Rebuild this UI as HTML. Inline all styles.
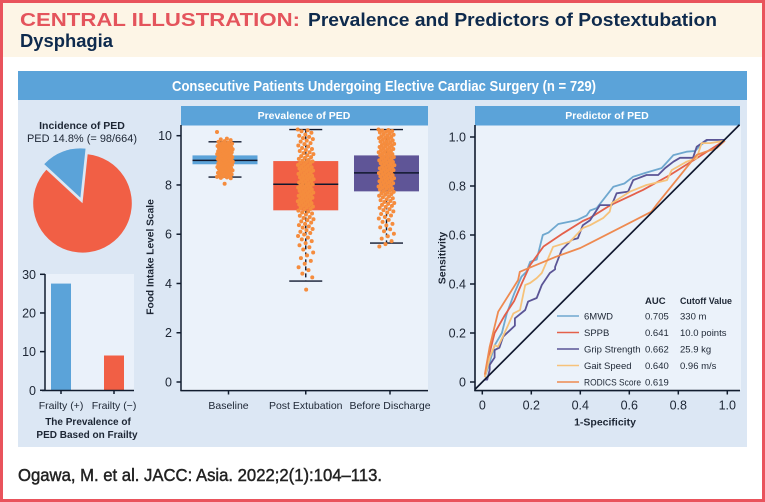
<!DOCTYPE html>
<html lang="en">
<head>
<meta charset="utf-8">
<title>Central Illustration: Prevalence and Predictors of Postextubation Dysphagia</title>
<style>
html,body{margin:0;padding:0;background:#fff;}
svg{display:block;font-family:"Liberation Sans",sans-serif;}
.tick{font-size:12.5px;fill:#1d2634;}
.cat{font-size:10.5px;fill:#1d2634;}
.bold{font-weight:bold;fill:#1d2634;}
.leg{font-size:9.5px;fill:#1d2634;}
</style>
</head>
<body>
<svg id="root" width="765" height="502" viewBox="0 0 765 502" xmlns="http://www.w3.org/2000/svg">
  <rect x="0" y="0" width="765" height="502" fill="#ffffff"/>
  <rect x="3" y="3" width="759" height="54" fill="#fdf5e6"/>
  <rect x="1.5" y="1.5" width="762" height="499" fill="none" stroke="#e9535c" stroke-width="3"/>
  <text x="20" y="26" font-size="18.5" font-weight="bold" fill="#e4545c" textLength="280" lengthAdjust="spacingAndGlyphs">CENTRAL ILLUSTRATION:</text>
  <text x="308" y="26" font-size="18.5" font-weight="bold" fill="#0e2a4d" textLength="409" lengthAdjust="spacingAndGlyphs">Prevalence and Predictors of Postextubation</text>
  <text x="20" y="47" font-size="18.5" font-weight="bold" fill="#0e2a4d" textLength="93" lengthAdjust="spacingAndGlyphs">Dysphagia</text>

  <rect x="18" y="100" width="729" height="347" fill="#dce7f4"/>
  <rect x="18" y="71" width="729" height="29" fill="#5ba3d9"/>
  <text x="384" y="91" font-size="15" font-weight="bold" fill="#ffffff" text-anchor="middle" textLength="424" lengthAdjust="spacingAndGlyphs">Consecutive Patients Undergoing Elective Cardiac Surgery (n = 729)</text>

  <g id="pie">
    <text x="82" y="129" font-size="10.5" class="bold" text-anchor="middle">Incidence of PED</text>
    <text x="82" y="142" font-size="11" fill="#1d2634" text-anchor="middle" textLength="110" lengthAdjust="spacingAndGlyphs">PED 14.8% (= 98/664)</text>
  </g>

  <g id="bars">
    <rect x="45" y="274" width="89" height="116" fill="#eaf1fa"/>
    <text x="88" y="425" font-size="10" class="bold" text-anchor="middle">The Prevalence of</text>
    <text x="87" y="438" font-size="10" class="bold" text-anchor="middle">PED Based on Frailty</text>
  </g>

  <g id="box">
    <rect x="181" y="125" width="247" height="265" fill="#ebf2fa"/>
    <rect x="181" y="106" width="247" height="19.5" fill="#5ba3d9"/>
    <text x="304" y="119" font-size="10.5" font-weight="bold" fill="#ffffff" text-anchor="middle">Prevalence of PED</text>
    <text transform="translate(153.5,257) rotate(-90)" font-size="10.2" class="bold" text-anchor="middle">Food Intake Level Scale</text>
  </g>

  <g id="roc">
    <rect x="475" y="125" width="266" height="265" fill="#ebf2fa"/>
    <rect x="475" y="106" width="265" height="19.5" fill="#5ba3d9"/>
    <text x="607" y="119" font-size="10.5" font-weight="bold" fill="#ffffff" text-anchor="middle">Predictor of PED</text>
    <text transform="translate(445.5,258) rotate(-90)" font-size="10.5" class="bold" text-anchor="middle">Sensitivity</text>
    <text x="605" y="425.5" font-size="10.5" class="bold" text-anchor="middle">1-Specificity</text>
  </g>

  <text x="18" y="481" font-size="17.5" fill="#222222" stroke="#222222" stroke-width="0.45" textLength="364" lengthAdjust="spacingAndGlyphs">Ogawa, M. et al. JACC: Asia. 2022;2(1):104–113.</text>
</svg>

<script>
/* Pie data */
const pieLabels = ['PED', 'No PED'];
const pieCounts = [98, 566];

/* Frailty bar data */
const frailtyCategories = ['Frailty (+)', 'Frailty (−)'];
const frailtyValues = [27.6, 9];
const frailtyTicks = [0, 10, 20, 30];

/* Box plot data */
const boxCategories = ['Baseline', 'Post Extubation', 'Before Discharge'];
const boxTicks = [0, 2, 4, 6, 8, 10];
const boxQ1 = [8.84, 6.97, 7.74];
const boxMedian = [9.0, 8.03, 8.49];
const boxQ3 = [9.2, 8.97, 9.2];
const boxWhiskerLow = [8.32, 4.1, 5.64];
const boxWhiskerHigh = [9.75, 10.25, 10.25];
const baselinePoints = [10.15,9.88,9.85,9.82,9.78,9.75,9.72,9.7,9.68,9.66,9.64,9.62,9.6,9.58,9.57,9.55,9.53,9.52,9.5,9.48,9.47,9.45,9.44,9.42,9.4,9.39,9.37,9.36,9.34,9.33,9.31,9.3,9.28,9.27,9.25,9.24,9.22,9.21,9.19,9.18,9.16,9.15,9.13,9.12,9.1,9.09,9.07,9.06,9.04,9.03,9.01,9,8.98,8.97,8.95,8.94,8.92,8.91,8.89,8.88,8.86,8.85,8.83,8.82,8.8,8.78,8.77,8.75,8.73,8.72,8.7,8.68,8.66,8.65,8.63,8.61,8.59,8.57,8.55,8.53,8.51,8.49,8.47,8.45,8.43,8.41,8.39,8.37,8.35,8.33,8.31,8.29,8.27,8.05];
const postPoints = [10.25,10.22,10.18,10.12,10.05,10.0,9.95,9.9,9.86,9.8,9.76,9.7,9.66,9.6,9.56,9.5,9.46,9.42,9.38,9.33,9.29,9.25,9.2,9.17,9.13,9.1,9.06,9.02,8.99,8.96,8.93,8.9,8.87,8.84,8.81,8.78,8.75,8.72,8.7,8.67,8.64,8.61,8.58,8.56,8.53,8.5,8.47,8.45,8.42,8.39,8.37,8.34,8.31,8.29,8.26,8.23,8.21,8.18,8.15,8.13,8.1,8.07,8.05,8.02,8.0,7.97,7.95,7.92,7.89,7.87,7.84,7.82,7.79,7.76,7.74,7.71,7.69,7.66,7.63,7.61,7.58,7.56,7.53,7.5,7.48,7.45,7.42,7.4,7.37,7.34,7.32,7.29,7.26,7.23,7.2,7.18,7.15,7.12,7.09,7.06,7.03,7.0,6.96,6.92,6.88,6.84,6.8,6.75,6.7,6.66,6.61,6.57,6.52,6.47,6.42,6.37,6.32,6.27,6.21,6.16,6.1,6.05,5.99,5.93,5.86,5.79,5.72,5.64,5.55,5.47,5.38,5.26,5.14,5.03,4.92,4.8,4.66,4.54,4.4,4.25,3.75];
const dischargePoints = [10.25,10.23,10.21,10.19,10.16,10.13,10.1,10.07,10.04,10.01,9.98,9.95,9.92,9.9,9.87,9.84,9.81,9.78,9.76,9.73,9.7,9.67,9.65,9.62,9.59,9.57,9.54,9.51,9.49,9.46,9.43,9.41,9.38,9.36,9.33,9.3,9.28,9.25,9.23,9.2,9.18,9.15,9.13,9.1,9.08,9.05,9.03,9.0,8.98,8.95,8.93,8.9,8.88,8.85,8.83,8.8,8.78,8.75,8.73,8.7,8.68,8.65,8.63,8.6,8.58,8.55,8.53,8.5,8.48,8.45,8.43,8.4,8.38,8.35,8.33,8.3,8.27,8.25,8.22,8.2,8.17,8.15,8.12,8.1,8.07,8.05,8.02,7.99,7.97,7.94,7.92,7.89,7.86,7.84,7.81,7.78,7.75,7.72,7.69,7.66,7.63,7.6,7.56,7.53,7.5,7.46,7.42,7.38,7.35,7.31,7.27,7.23,7.19,7.15,7.11,7.07,7.02,6.98,6.93,6.88,6.82,6.76,6.7,6.64,6.58,6.5,6.42,6.36,6.28,6.2,6.12,6.02,5.92,5.82,5.72,5.6,5.5];

/* ROC data */
const rocTicks = [0, 0.2, 0.4, 0.6, 0.8, 1.0];
const rocSeriesNames = ['6MWD', 'SPPB', 'Grip Strength', 'Gait Speed', 'RODICS Score'];
const rocAuc = ['0.705', '0.641', '0.662', '0.640', '0.619'];
const rocCutoff = ['330 m', '10.0 points', '25.9 kg', '0.96 m/s', ''];
const fpr6mwd = [0.01,0.03,0.05,0.08,0.10,0.13,0.16,0.18,0.195,0.222,0.247,0.27,0.31,0.385,0.426,0.44,0.467,0.535,0.58,0.616,0.664,0.732,0.78,0.834,0.868,0.888,0.92,0.99];
const tpr6mwd = [0.02,0.08,0.15,0.20,0.28,0.36,0.43,0.45,0.49,0.50,0.60,0.61,0.645,0.66,0.68,0.70,0.71,0.797,0.81,0.838,0.853,0.873,0.926,0.94,0.943,0.964,0.988,0.988];
const fprSppb = [0.01,0.03,0.05,0.09,0.13,0.16,0.195,0.25,0.33,0.41,0.44,0.52,0.656,0.766,0.876,0.98];
const tprSppb = [0.02,0.12,0.20,0.27,0.33,0.40,0.477,0.553,0.607,0.657,0.67,0.72,0.784,0.845,0.914,0.98];
const fprGrip = [0.01,0.02,0.03,0.03,0.05,0.05,0.07,0.085,0.133,0.133,0.175,0.187,0.222,0.243,0.276,0.297,0.297,0.324,0.365,0.39,0.41,0.44,0.48,0.528,0.548,0.595,0.616,0.67,0.718,0.746,0.78,0.807,0.86,0.875,0.916,0.99];
const tprGrip = [0.01,0.01,0.05,0.07,0.10,0.13,0.14,0.185,0.23,0.26,0.294,0.328,0.343,0.396,0.445,0.46,0.47,0.539,0.58,0.587,0.64,0.66,0.722,0.722,0.77,0.777,0.824,0.845,0.845,0.873,0.899,0.915,0.915,0.96,0.988,0.988];
const fprGait = [0.01,0.03,0.05,0.064,0.093,0.127,0.154,0.175,0.195,0.222,0.243,0.263,0.289,0.358,0.41,0.44,0.493,0.52,0.528,0.603,0.67,0.754,0.773,0.834,0.875,0.895,0.93,0.99];
const tprGait = [0.02,0.10,0.15,0.144,0.205,0.28,0.294,0.396,0.404,0.424,0.445,0.491,0.552,0.573,0.628,0.64,0.669,0.695,0.73,0.777,0.804,0.824,0.865,0.899,0.914,0.975,0.975,0.985];
const fprRodics = [0.01,0.03,0.065,0.146,0.153,0.30,0.40,0.44,0.69,0.71,0.875,0.957,0.99];
const tprRodics = [0.03,0.144,0.287,0.416,0.45,0.511,0.547,0.567,0.695,0.722,0.927,0.955,0.985];
const rocFpr = [fpr6mwd, fprSppb, fprGrip, fprGait, fprRodics];
const rocTpr = [tpr6mwd, tprSppb, tprGrip, tprGait, tprRodics];

const NS = 'http://www.w3.org/2000/svg';
const INK = '#111c2e';
function mk(parentId, tag, attrs, text) {
  const el = document.createElementNS(NS, tag);
  for (const k in attrs) el.setAttribute(k, attrs[k]);
  if (text !== undefined) el.textContent = text;
  document.getElementById(parentId).appendChild(el);
  return el;
}
let el;

/* ---------- Pie ---------- */
const pieCx = 82.5, pieCy = 203.3, pieR = 49.3;
const pieTotal = pieCounts[0] + pieCounts[1];
const pieSweep0 = pieCounts[0] / pieTotal * 360;
const pieStart = 6 - pieSweep0;
function polar(cx, cy, r, deg) {
  const a = deg * Math.PI / 180;
  return [cx + r * Math.sin(a), cy - r * Math.cos(a)];
}
function wedge(cx, cy, r, a0, a1) {
  const p0 = polar(cx, cy, r, a0), p1 = polar(cx, cy, r, a1);
  const large = (a1 - a0) > 180 ? 1 : 0;
  return 'M' + cx + ' ' + cy + 'L' + p0[0] + ' ' + p0[1] + 'A' + r + ' ' + r + ' 0 ' + large + ' 1 ' + p1[0] + ' ' + p1[1] + 'Z';
}
const pieMid = polar(pieCx, pieCy, 6, pieStart + pieSweep0 / 2);
el = mk('pie', 'path', {d: wedge(pieMid[0], pieMid[1], pieR, pieStart, pieStart + pieSweep0), fill: '#5ba3d9'});


el = mk('pie', 'path', {d: wedge(pieCx, pieCy, pieR, pieStart + pieSweep0, pieStart + 360), fill: '#f15f45'});



/* ---------- Frailty bars ---------- */
const frailtyY = v => 390.3 - v * 116 / 30;
const frailtyX = i => 61 + i * 53;
const frailtyColors = ['#5ba3d9', '#f15f45'];
frailtyCategories.forEach((c, i) => {
  el = mk('bars', 'rect', {x: frailtyX(i) - 10, y: frailtyY(frailtyValues[i]), width: 20, height: frailtyY(0) - frailtyY(frailtyValues[i]), fill: frailtyColors[i]});
  
  
  el = mk('bars', 'line', {x1: frailtyX(i), x2: frailtyX(i), y1: 390, y2: 394, stroke: INK, 'stroke-width': 1.5});
  
  
  el = mk('bars', 'text', {x: frailtyX(i), y: 409, class: 'cat', 'text-anchor': 'middle'}, c);
  
  
});
frailtyTicks.forEach(t => {
  el = mk('bars', 'line', {x1: 40, x2: 45, y1: frailtyY(t), y2: frailtyY(t), stroke: INK, 'stroke-width': 1.5});
  
  
  el = mk('bars', 'text', {x: 36, y: frailtyY(t) + 4.5, class: 'tick', 'text-anchor': 'end'}, String(t));
  
  
});
el = mk('bars', 'line', {x1: 45, x2: 45, y1: 274, y2: 391, stroke: INK, 'stroke-width': 1.5});


el = mk('bars', 'line', {x1: 42, x2: 134, y1: 390.5, y2: 390.5, stroke: INK, 'stroke-width': 1.5});



/* ---------- Box plot ---------- */
const boxY = v => 382 - v * 24.63;
const boxX = i => 225 + i * 80.75;
const boxTickX = i => boxX(i) + (i === 1 ? 0 : 3.5);
const boxColors = ['#5ba3d9', '#f15f45', '#5f5597'];
const boxPointSets = [baselinePoints, postPoints, dischargePoints];
boxCategories.forEach((c, i) => {
  const cx = boxX(i);
  el = mk('box', 'rect', {x: cx - 32.5, y: boxY(boxQ3[i]), width: 65, height: boxY(boxQ1[i]) - boxY(boxQ3[i]), fill: boxColors[i]});
  
  
  el = mk('box', 'line', {x1: cx - 32.5, x2: cx + 32.5, y1: boxY(boxMedian[i]), y2: boxY(boxMedian[i]), stroke: '#10182e', 'stroke-width': 1.5});
  
  
  el = mk('box', 'line', {x1: cx, x2: cx, y1: boxY(boxWhiskerHigh[i]), y2: boxY(boxQ3[i]), stroke: '#10182e', 'stroke-width': 1.4, 'stroke-dasharray': '4 3'});
  
  
  el = mk('box', 'line', {x1: cx, x2: cx, y1: boxY(boxQ1[i]), y2: boxY(boxWhiskerLow[i]), stroke: '#10182e', 'stroke-width': 1.4, 'stroke-dasharray': '4 3'});
  
  
  el = mk('box', 'line', {x1: cx - 16.5, x2: cx + 16.5, y1: boxY(boxWhiskerHigh[i]), y2: boxY(boxWhiskerHigh[i]), stroke: '#10182e', 'stroke-width': 1.4});
  
  
  el = mk('box', 'line', {x1: cx - 16.5, x2: cx + 16.5, y1: boxY(boxWhiskerLow[i]), y2: boxY(boxWhiskerLow[i]), stroke: '#10182e', 'stroke-width': 1.4});
  
  
  boxPointSets[i].forEach((v, k) => {
    const spread = ((k * 0.618034) % 1 - 0.5) * 16;
    el = mk('box', 'circle', {cx: cx + spread, cy: boxY(v), r: 2, fill: '#f58c3d'});
    
    
  });
  el = mk('box', 'line', {x1: boxTickX(i), x2: boxTickX(i), y1: 390.5, y2: 394.5, stroke: INK, 'stroke-width': 1.5});
  
  
  el = mk('box', 'text', {x: boxTickX(i), y: 409, class: 'cat', 'text-anchor': 'middle'}, c);
  
  
});
boxTicks.forEach(t => {
  el = mk('box', 'line', {x1: 176.5, x2: 181, y1: boxY(t), y2: boxY(t), stroke: INK, 'stroke-width': 1.5});
  
  
  el = mk('box', 'text', {x: 172, y: boxY(t) + 4.5, class: 'tick', 'text-anchor': 'end'}, String(t));
  
  
});
el = mk('box', 'line', {x1: 181, x2: 181, y1: 125, y2: 391, stroke: INK, 'stroke-width': 1.5});


el = mk('box', 'line', {x1: 180.4, x2: 428, y1: 390.6, y2: 390.6, stroke: INK, 'stroke-width': 1.5});



/* ---------- ROC ---------- */
const rocX = v => 482.3 + v * 245;
const rocY = v => 382 - v * 245;
const rocColors = ['#6fa8cf', '#e4604a', '#5b5596', '#f6c27a', '#ee8a50'];
rocSeriesNames.forEach((name, s) => {
  const pts = rocFpr[s].map((f, k) => rocX(f).toFixed(1) + ',' + rocY(rocTpr[s][k]).toFixed(1)).join(' ');
  el = mk('roc', 'polyline', {points: pts, fill: 'none', stroke: rocColors[s], 'stroke-width': 1.8, 'stroke-linejoin': 'round'});
  
  
});
el = mk('roc', 'line', {x1: rocX(-0.03), y1: rocY(-0.03), x2: rocX(1.05), y2: rocY(1.05), stroke: '#10182e', 'stroke-width': 1.7});


rocTicks.forEach(t => {
  const lab = t === 0 ? '0' : t.toFixed(1);
  el = mk('roc', 'line', {x1: 470, x2: 475, y1: rocY(t), y2: rocY(t), stroke: INK, 'stroke-width': 1.5});
  
  
  el = mk('roc', 'text', {x: 466, y: rocY(t) + 4.5, class: 'tick', 'text-anchor': 'end'}, lab);
  
  
  el = mk('roc', 'line', {x1: rocX(t), x2: rocX(t), y1: 390.5, y2: 394.5, stroke: INK, 'stroke-width': 1.5});
  
  
  el = mk('roc', 'text', {x: rocX(t), y: 409.5, class: 'tick', 'text-anchor': 'middle'}, lab);
  
  
});
el = mk('roc', 'line', {x1: 475, x2: 475, y1: 125, y2: 391, stroke: INK, 'stroke-width': 1.6});


el = mk('roc', 'line', {x1: 474.3, x2: 740, y1: 390.6, y2: 390.6, stroke: INK, 'stroke-width': 1.6});



/* Legend */
el = mk('roc', 'text', {x: 645, y: 304, class: 'leg', 'font-weight': 'bold'}, 'AUC');


el = mk('roc', 'text', {x: 680, y: 304, class: 'leg', 'font-weight': 'bold', textLength: 52, lengthAdjust: 'spacingAndGlyphs'}, 'Cutoff Value');


rocSeriesNames.forEach((name, s) => {
  const y = 316 + s * 16.5;
  el = mk('roc', 'line', {x1: 557, x2: 579, y1: y, y2: y, stroke: rocColors[s], 'stroke-width': 1.6});
  
  
  el = mk('roc', 'text', {x: 584, y: y + 3.3, class: 'leg'}, name);
  
  
  if (el.getComputedTextLength() > 57) {
    el.setAttribute('textLength', '57');
    el.setAttribute('lengthAdjust', 'spacingAndGlyphs');
  }
  el = mk('roc', 'text', {x: 645, y: y + 3.3, class: 'leg'}, rocAuc[s]);
  
  
  el = mk('roc', 'text', {x: 680, y: y + 3.3, class: 'leg'}, rocCutoff[s]);
  
  
});
</script>
</body>
</html>
